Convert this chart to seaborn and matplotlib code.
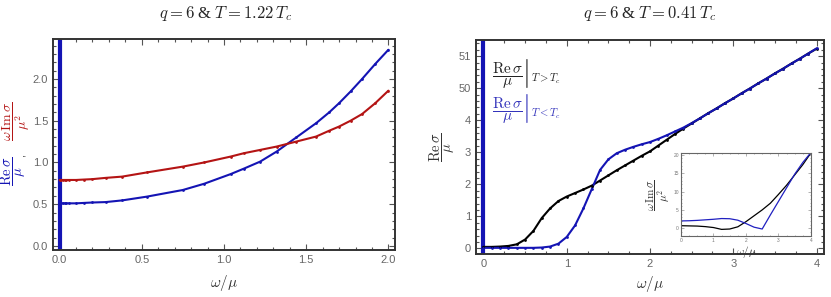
import numpy as np
import pandas as pd
import matplotlib
matplotlib.use("Agg")
import matplotlib.pyplot as plt
import seaborn as sns
from matplotlib.ticker import MultipleLocator, FormatStrFormatter

# -------------------------------
# Data
# -------------------------------
# left panel: q=6, T=1.22 Tc
w_left = [0, 0.01, 0.02, 0.03, 0.04, 0.06, 0.1, 0.15, 0.2, 0.28, 0.38, 0.53, 0.75,
          0.88, 1.04, 1.12, 1.22, 1.32, 1.44, 1.56, 1.64, 1.70, 1.77, 1.84, 1.92, 2.0]
re_left = [0.51, 0.51, 0.51, 0.51, 0.51, 0.51, 0.51, 0.515, 0.52, 0.525, 0.545, 0.59, 0.67,
           0.745, 0.86, 0.925, 1.01, 1.13, 1.30, 1.47, 1.60, 1.71, 1.85, 2.0, 2.18, 2.35]
im_left = [0.79, 0.79, 0.79, 0.79, 0.79, 0.79, 0.79, 0.795, 0.80, 0.815, 0.83, 0.88, 0.95,
           1.0, 1.07, 1.11, 1.15, 1.19, 1.25, 1.31, 1.38, 1.43, 1.50, 1.58, 1.71, 1.86]

# right panel: q=6, T=0.41 Tc
w_right = [0.0, 0.1, 0.2, 0.3, 0.4, 0.5, 0.6, 0.7, 0.8, 0.9, 1.0, 1.1, 1.2, 1.3, 1.4,
           1.5, 1.6, 1.7, 1.8, 1.9, 2.0, 2.1, 2.2, 2.3, 2.4, 2.5, 2.6, 2.7, 2.8, 2.9,
           3.0, 3.1, 3.2, 3.3, 3.4, 3.5, 3.6, 3.7, 3.8, 3.9, 4.0]
re_above = [0.05, 0.05, 0.06, 0.08, 0.13, 0.28, 0.55, 0.95, 1.25, 1.48, 1.62, 1.73, 1.84,
            1.96, 2.12, 2.28, 2.44, 2.59, 2.74, 2.89, 3.03, 3.21, 3.39, 3.57, 3.74, 3.90,
            4.06, 4.22, 4.37, 4.53, 4.68, 4.84, 4.99, 5.15, 5.30, 5.46, 5.61, 5.77, 5.92,
            6.08, 6.23]
re_below = [0.02, 0.02, 0.02, 0.02, 0.02, 0.02, 0.02, 0.03, 0.06, 0.15, 0.36, 0.72, 1.25,
            1.85, 2.45, 2.78, 2.97, 3.08, 3.17, 3.25, 3.32, 3.42, 3.53, 3.65, 3.77, 3.91,
            4.06, 4.22, 4.37, 4.53, 4.68, 4.84, 4.99, 5.15, 5.30, 5.46, 5.61, 5.77, 5.92,
            6.08, 6.24]
right_ticks = [0, 1, 2, 3, 4, 5, 6]
right_ticklabels = ["0", "1", "2", "3", "4", "50", "51"]

# inset: omega Im sigma / mu^2
w_inset = [0, 0.25, 0.5, 0.75, 1.0, 1.25, 1.5, 1.75, 2.0, 2.25, 2.5, 2.75, 3.0, 3.25,
           3.5, 3.75, 4.0]
im_inset_above = [0.7, 0.65, 0.6, 0.45, 0.2, -0.3, -0.2, 0.4, 1.8, 3.4, 5.0, 6.8, 9.2,
                  11.7, 14.5, 17.3, 20.5]
im_inset_below = [2.0, 2.05, 2.15, 2.3, 2.45, 2.65, 2.6, 2.2, 1.3, 0.3, -0.2, 3.6, 7.3,
                  11.0, 14.7, 17.9, 20.6]

left_df = pd.DataFrame({"w": w_left, "re": re_left, "im": im_left})
right_df = pd.DataFrame({"w": w_right, "above": re_above, "below": re_below})
inset_df = pd.DataFrame({"w": w_inset, "above": im_inset_above, "below": im_inset_below})

BLUE = "#1414b4"
RED = "#b41414"
BLACK = "#000000"

# -------------------------------
# Style
# -------------------------------
sns.set_theme(style="ticks")
plt.rcParams["font.family"] = ["Liberation Sans", "DejaVu Sans"]
plt.rcParams["mathtext.fontset"] = "cm"


def frame_style(ax, labelsize=8, major_len=4, minor_len=2):
    for sp in ax.spines.values():
        sp.set_visible(True)
        sp.set_color("#333333")
        sp.set_linewidth(1.4)
    ax.tick_params(which="both", direction="in", top=True, right=True,
                   colors="#555555", labelcolor="#666666", labelsize=labelsize, width=0.8)
    ax.tick_params(which="major", length=major_len)
    ax.tick_params(which="minor", length=minor_len)


fig = plt.figure(figsize=(8.31, 2.97), dpi=100)

# -------------------------------
# Left panel
# -------------------------------
ax1 = fig.add_axes([0.0638, 0.158, 0.4115, 0.711])
ax1.axvline(0, color=BLUE, lw=3.0, zorder=1)
sns.lineplot(data=left_df, x="w", y="re", color=BLUE, lw=1.5, ax=ax1)
sns.lineplot(data=left_df, x="w", y="im", color=RED, lw=1.5, ax=ax1)
sns.scatterplot(data=left_df, x="w", y="re", color=BLUE, s=4, linewidth=0, ax=ax1, zorder=3)
sns.scatterplot(data=left_df, x="w", y="im", color=RED, s=4, linewidth=0, ax=ax1, zorder=3)
ax1.set_xlim(-0.04, 2.04)
ax1.set_ylim(-0.05, 2.48)
ax1.xaxis.set_major_locator(MultipleLocator(0.5))
ax1.xaxis.set_minor_locator(MultipleLocator(0.1))
ax1.yaxis.set_major_locator(MultipleLocator(0.5))
ax1.yaxis.set_minor_locator(MultipleLocator(0.1))
ax1.xaxis.set_major_formatter(FormatStrFormatter("%.1f"))
ax1.yaxis.set_major_formatter(FormatStrFormatter("%.1f"))
frame_style(ax1)
ax1.set_xlabel(r"$\omega/\mu$", fontsize=11, color="#333333", labelpad=6)
ax1.set_ylabel("")
fig.text(0.271, 0.955, r"$q=6$ & $T=1.22\,T_c$", fontsize=12, ha="center", va="center",
         family=["Liberation Serif", "DejaVu Serif"])
fig.text(0.016, 0.425, r"$\dfrac{\mathrm{Re}\,\sigma}{\mu}$", rotation=90, color=BLUE,
         fontsize=10.5, ha="center", va="center")
fig.text(0.026, 0.476, ",", rotation=90, color="#333333", fontsize=8, ha="center", va="center")
fig.text(0.019, 0.59, r"$\dfrac{\omega\,\mathrm{Im}\,\sigma}{\mu^2}$", rotation=90, color=RED,
         fontsize=10, ha="center", va="center")

# -------------------------------
# Right panel
# -------------------------------
ax2 = fig.add_axes([0.5728, 0.145, 0.4188, 0.72])
ax2.axvline(0, color=BLUE, lw=3.0, zorder=1)
sns.lineplot(data=right_df, x="w", y="above", color=BLACK, lw=1.5, ax=ax2)
sns.lineplot(data=right_df, x="w", y="below", color=BLUE, lw=1.5, ax=ax2)
sns.scatterplot(data=right_df, x="w", y="above", color=BLACK, s=4, linewidth=0, ax=ax2, zorder=3)
sns.scatterplot(data=right_df, x="w", y="below", color=BLUE, s=4, linewidth=0, ax=ax2, zorder=3)
ax2.set_xlim(-0.09, 4.09)
ax2.set_ylim(-0.17, 6.5)
ax2.xaxis.set_major_locator(MultipleLocator(1))
ax2.xaxis.set_minor_locator(MultipleLocator(0.25))
ax2.set_yticks(right_ticks)
ax2.set_yticklabels(right_ticklabels)
ax2.yaxis.set_minor_locator(MultipleLocator(0.2))
frame_style(ax2)
ax2.set_xlabel(r"$\omega/\mu$", fontsize=11, color="#333333", labelpad=4)
ax2.set_ylabel(r"$\dfrac{\mathrm{Re}\,\sigma}{\mu}$", fontsize=10.5, color="#333333", labelpad=1)
fig.text(0.782, 0.955, r"$q=6$ & $T=0.41\,T_c$", fontsize=12, ha="center", va="center",
         family=["Liberation Serif", "DejaVu Serif"])
ax2.text(0.045, 0.845, r"$\left.\dfrac{\mathrm{Re}\,\sigma}{\mu}\right|_{T>T_c}$",
         transform=ax2.transAxes, fontsize=11, color="#222222", va="center", ha="left")
ax2.text(0.045, 0.68, r"$\left.\dfrac{\mathrm{Re}\,\sigma}{\mu}\right|_{T<T_c}$",
         transform=ax2.transAxes, fontsize=11, color="#3333bb", va="center", ha="left")

# -------------------------------
# Inset
# -------------------------------
ax3 = fig.add_axes([0.8195, 0.2054, 0.1563, 0.2784])
sns.lineplot(data=inset_df, x="w", y="above", color=BLACK, lw=0.9, ax=ax3)
sns.lineplot(data=inset_df, x="w", y="below", color="#2020c0", lw=0.9, ax=ax3)
ax3.set_xlim(0, 4)
ax3.set_ylim(-2.1, 20.4)
ax3.xaxis.set_major_locator(MultipleLocator(1))
ax3.xaxis.set_minor_locator(MultipleLocator(0.25))
ax3.yaxis.set_major_locator(MultipleLocator(5))
ax3.yaxis.set_minor_locator(MultipleLocator(1))
for sp in ax3.spines.values():
    sp.set_visible(True)
    sp.set_color("#666666")
    sp.set_linewidth(0.8)
ax3.tick_params(which="both", direction="in", top=True, right=True, colors="#777777",
                labelcolor="#777777", labelsize=3.5, width=0.4, pad=1.5)
ax3.tick_params(which="major", length=2)
ax3.tick_params(which="minor", length=1)
ax3.set_xlabel(r"$\omega/\mu$", fontsize=8, color="#333333", labelpad=1)
ax3.set_ylabel(r"$\dfrac{\omega\,\mathrm{Im}\,\sigma}{\mu^2}$", fontsize=8, color="#333333",
               labelpad=1)

plt.savefig("out.png", dpi=100)
